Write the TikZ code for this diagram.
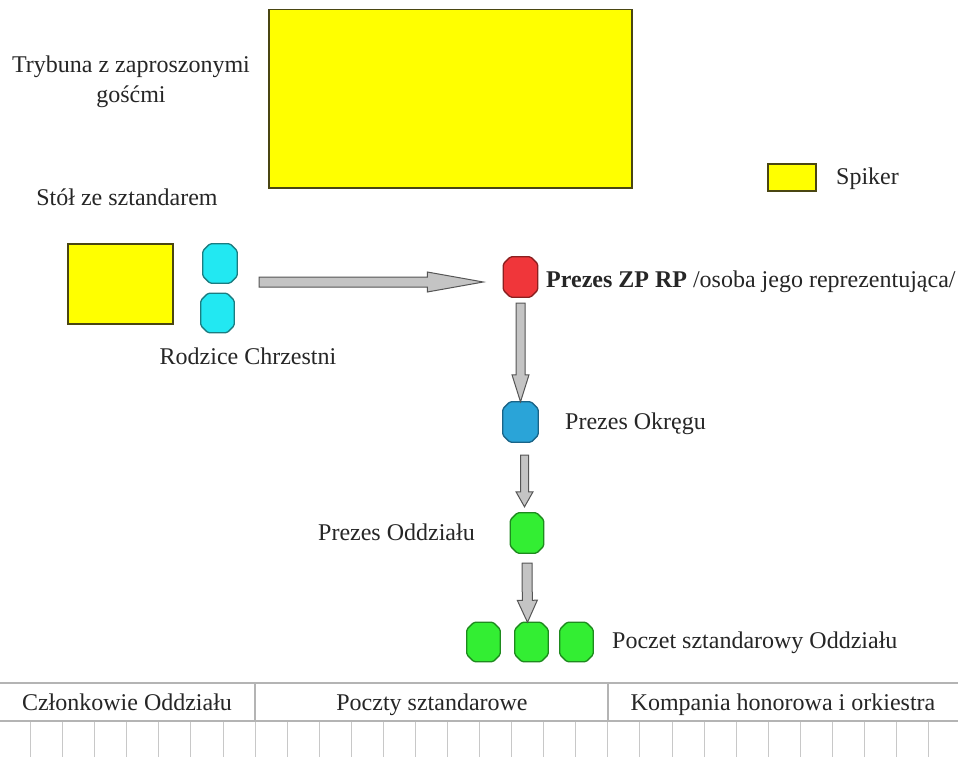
\documentclass[tikz,border=0pt]{standalone}
\usepackage{fontspec}
\setmainfont{Liberation Serif}
\usetikzlibrary{calc}
\definecolor{yelf}{HTML}{FFFF00}
\definecolor{yelb}{HTML}{4A4612}
\definecolor{cyanf}{HTML}{22E8F2}
\definecolor{cyanb}{HTML}{1C7C80}
\definecolor{redf}{HTML}{F0363A}
\definecolor{redb}{HTML}{8A2020}
\definecolor{bluef}{HTML}{2AA4D8}
\definecolor{blueb}{HTML}{1A6488}
\definecolor{greenf}{HTML}{33EE33}
\definecolor{greenb}{HTML}{1E8A1E}
\definecolor{arrf}{HTML}{C4C4C4}
\definecolor{arrb}{HTML}{555555}
\definecolor{gridc}{HTML}{C8C8C8}
\definecolor{gridd}{HTML}{B4B4B4}
\tikzset{
  yrect/.style={draw=yelb, fill=yelf, line width=1.5pt, inner sep=0pt, anchor=north west},
  lbl/.style={font=\fontsize{24}{30}\selectfont, inner sep=0pt, text=black!85},
  ln/.style={text height=17pt, text depth=2pt},
  fatarrow/.style={fill=arrf, draw=arrb, line width=1pt, line join=miter},
  gridline/.style={draw=gridc, line width=1pt},
  headline/.style={draw=gridd, line width=1.2pt}
}
\newcommand\octnode[5]{%
  \node[inner sep=0pt, minimum width=#3, minimum height=#4] (#1) at (#2) {};
  \draw[fill=#5f, draw=#5b, line width=1.3pt, rounded corners=1.5pt]
    ($(#1.north west)+(7,0)$) -- ($(#1.north east)+(-7,0)$) -- ($(#1.north east)+(0,7)$)
    -- ($(#1.south east)+(0,-7)$) -- ($(#1.south east)+(-7,0)$) -- ($(#1.south west)+(7,0)$)
    -- ($(#1.south west)+(0,-7)$) -- ($(#1.north west)+(0,7)$) -- cycle;}
\newcommand\fatarr[5]{%
  \coordinate (fa-h) at ($(#2)!#5!(#1)$);
  \draw[fatarrow] ($(#1)!#3!90:(#2)$) -- ($(fa-h)!#3!90:(#2)$) -- ($(fa-h)!#4!90:(#2)$)
    -- (#2) -- ($(fa-h)!#4!-90:(#2)$) -- ($(fa-h)!#3!-90:(#2)$) -- ($(#1)!#3!-90:(#2)$) -- cycle;}
\begin{document}
\begin{tikzpicture}[x=1pt, y=-1pt]
\useasboundingbox[fill=white] (0,0) rectangle (958,757);

% rectangles
\node[yrect, minimum width=363, minimum height=178] (trib) at (268,9) {};
\node[yrect, minimum width=48, minimum height=27] (spk) at (767,163) {};
\node[yrect, minimum width=105, minimum height=80] (stol) at (67,243) {};

% labels
\node[lbl, align=center] (tribtxt) at (131,82) {Trybuna z zaproszonymi\\gośćmi};
\node[lbl, ln, anchor=west] (spktxt) at (836,177) {Spiker};
\node[lbl, ln] (stoltxt) at (127,198) {Stół ze sztandarem};
\node[lbl, ln] (rodztxt) at (248,357) {Rodzice Chrzestni};

% octagons
\octnode{c1}{220,263.5}{34}{39}{cyan}
\octnode{c2}{217.5,313}{33}{39}{cyan}
\octnode{red}{520.5,277}{34}{40}{red}
\octnode{blue}{520.5,422}{35}{40}{blue}
\octnode{g1}{527,533}{33}{40}{green}
\octnode{g3a}{483.5,642}{33}{39}{green}
\octnode{g3b}{531.5,642}{33}{39}{green}
\octnode{g3c}{576.5,642}{33}{39}{green}

\node[lbl, ln, anchor=west] (redtxt) at (546,280) {\textbf{Prezes ZP RP} /osoba jego reprezentująca/};
\node[lbl, ln, anchor=west] (bluetxt) at (565,422) {Prezes Okręgu};
\node[lbl, ln, anchor=east] (g1txt) at (475,533) {Prezes Oddziału};
\node[lbl, ln, anchor=west] (g3txt) at (612,641) {Poczet sztandarowy Oddziału};

% arrows
\coordinate (a1s) at (259,282);
\coordinate (a1e) at ($(red.west)+(-20,5)$);
\fatarr{a1s}{a1e}{5pt}{10pt}{56pt}
\coordinate (a2s) at ($(red.south)+(0,6)$);
\fatarr{a2s}{blue.north}{4.5pt}{8.5pt}{27pt}
\coordinate (a3s) at ($(blue.south)+(4,13)$);
\coordinate (a3e) at ($(g1.north)+(-2.5,-6)$);
\fatarr{a3s}{a3e}{4pt}{8.5pt}{15pt}
\coordinate (a4s) at ($(g1.south)+(0,10)$);
\coordinate (a4e) at ($(g3b.north)+(-4,0)$);
\fatarr{a4s}{a4e}{5pt}{10pt}{22pt}

% bottom table
\foreach \k in {0,...,28} {\draw[gridline] ({30.6+32.07*\k},721) -- ({30.6+32.07*\k},757);}
\draw[headline] (0,683) -- (958,683);
\draw[headline] (0,721) -- (958,721);
\draw[headline] (255,683) -- (255,721);
\draw[headline] (608,683) -- (608,721);
\node[lbl, ln] (h1) at (127,703) {Członkowie Oddziału};
\node[lbl, ln] (h2) at (432,703) {Poczty sztandarowe};
\node[lbl, ln] (h3) at (783,703) {Kompania honorowa i orkiestra};
\end{tikzpicture}
\end{document}
